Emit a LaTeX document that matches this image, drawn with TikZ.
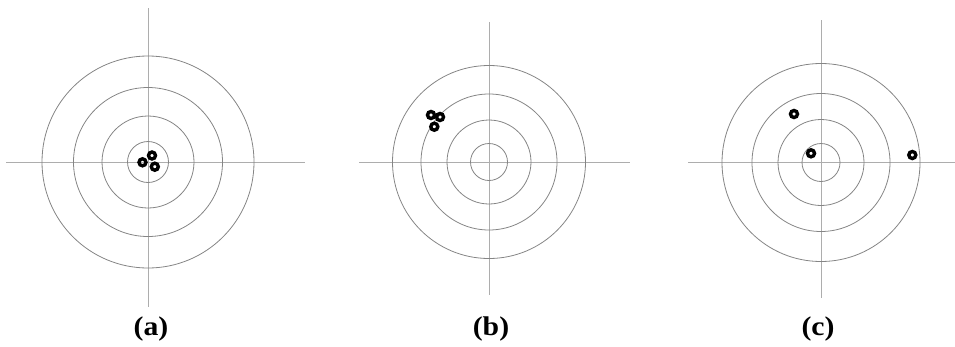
\documentclass[tikz,border=0pt]{standalone}
\usepackage{fontspec}
\setmainfont{Liberation Serif}
\begin{document}
\begin{tikzpicture}[x=1pt,y=-1pt,
  ring/.style={draw=black!48,line width=0.8pt},
  axis/.style={draw=black!32,line width=0.9pt},
  shot/.style={draw=black,line width=3.4pt},
  lab/.style={font=\fontsize{27}{27}\selectfont\bfseries,inner sep=0pt,xscale=1.1}]
\useasboundingbox (0,0) rectangle (955,346);
% panel (a)
\coordinate (ca) at (148,162);
\draw[axis] (6,162) -- (305,162);
\draw[axis] (148,8) -- (148,307);
\foreach \r in {106,74.5,46,20.5} \draw[ring] (ca) circle[radius=\r];
\foreach \p in {(142.5,162.3),(152,155.5),(154.8,166.7)} \draw[shot] \p circle[radius=3.5];
\node[lab] (la) at (151,328.5) {(a)};
% panel (b)
\coordinate (cb) at (489,162);
\draw[axis] (359,162) -- (630,162);
\draw[axis] (489,22) -- (489,295);
\foreach \r in {96.5,68,42,18.5} \draw[ring] (cb) circle[radius=\r];
\foreach \p in {(431,115),(440,117),(434.3,126.7)} \draw[shot] \p circle[radius=3.5];
\node[lab] (lb) at (491,328.5) {(b)};
% panel (c)
\coordinate (cc) at (821,162.5);
\draw[axis] (688,162.5) -- (955,162.5);
\draw[axis] (821,20) -- (821,298);
\foreach \r in {99,69,43,19} \draw[ring] (cc) circle[radius=\r];
\foreach \p in {(794,114),(811,153.3),(912.3,155)} \draw[shot] \p circle[radius=3.5];
\node[lab] (lc) at (818,328.5) {(c)};
\end{tikzpicture}
\end{document}
